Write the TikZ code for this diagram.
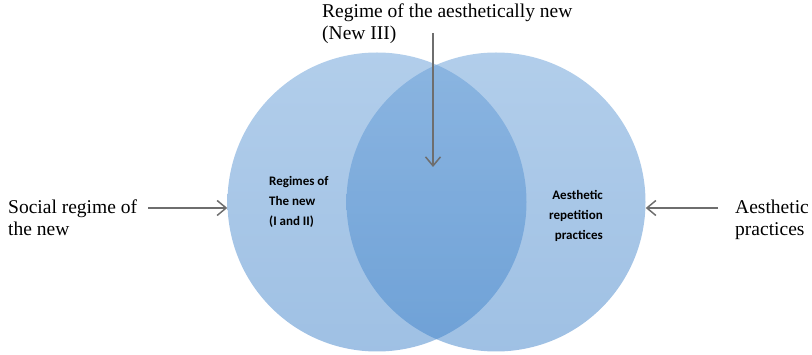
\documentclass[tikz,border=0pt]{standalone}
\usepackage{fontspec}
\setmainfont{Liberation Serif}
\newfontfamily\labelfont{Carlito}
\usetikzlibrary{arrows.meta}
\definecolor{venntop}{HTML}{659DD7}
\definecolor{vennbottom}{HTML}{3F82C9}
\definecolor{arrowgray}{HTML}{6E6E6E}

\begin{document}
\begin{tikzpicture}[x=1pt, y=-1pt, every node/.style={inner sep=0pt},
  outer/.style={font=\fontsize{19.5}{21.5}\selectfont, align=left, anchor=north west},
  inner/.style={font=\labelfont\bfseries\fontsize{13}{20}\selectfont},
  regime/.style={circle, top color=venntop, bottom color=vennbottom, fill opacity=0.5, minimum size=299pt},
  pointer/.style={-{Straight Barb[length=9pt, width=15pt]}, arrowgray, line width=1.5pt}]
  \useasboundingbox (0,0) rectangle (812,355);

  % --- Circles ---
  \node[regime] (newreg) at (377,202) {};
  \node[regime] (aesreg) at (496,202) {};

  % --- Labels inside ---
  \node[inner, align=left, anchor=north west] (newtxt) at (269,176) {Regimes of\\The new\\(I and II)};
  \node[inner, align=right, anchor=north east] (aestxt) at (603,190) {Aesthetic\\repetition\\practices};

  % --- Labels outside ---
  \node[outer] (topl) at (322,4) {Regime of the aesthetically new\\(New III)};
  \node[outer] (leftl) at (8,200) {Social regime of\\the new};
  \node[outer] (rightl) at (735,200) {Aesthetic\\practices};

  % --- Arrows ---
  \coordinate (topstart) at (433,33);
  \coordinate (lenstip) at (433,167);
  \coordinate (leftstart) at (148,208);
  \coordinate (rightstart) at (718,208);
  \draw[pointer] (topstart) -- (lenstip);
  \draw[pointer] (leftstart) -- (newreg.west |- leftstart);
  \draw[pointer] (rightstart) -- (aesreg.east |- rightstart);
\end{tikzpicture}
\end{document}
